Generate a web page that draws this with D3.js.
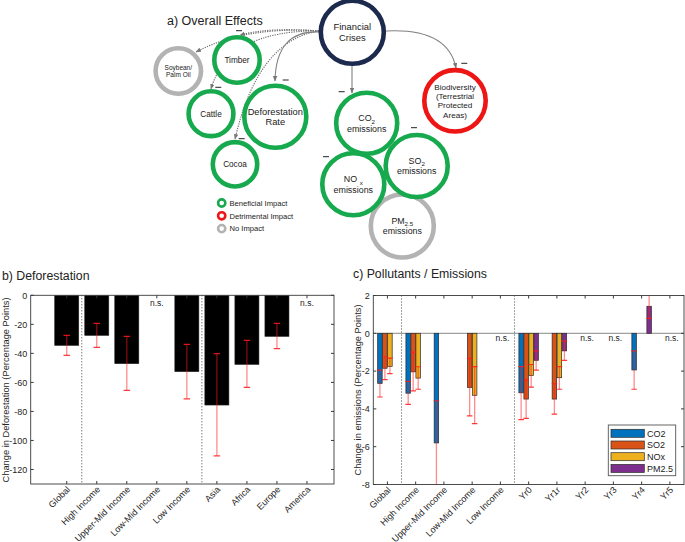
<!DOCTYPE html>
<html><head><meta charset="utf-8">
<script src="https://cdn.jsdelivr.net/npm/d3@7"></script>
<style>body{margin:0;background:#fff} text{font-family:"Liberation Sans",Arial,Helvetica,sans-serif}</style>
</head><body><svg id="chart" width="685" height="542"></svg>
<script>
// ---------- DATA ----------
const defCats = ["Global","High Income","Upper-Mid Income","Low-Mid Income","Low Income","Asia","Africa","Europe","America"];
const defValues = [-34.5,-27.6,-47.1,null,-52.6,-75.6,-47.6,-28.3,null];
const defErrHigh = [-27.6,-19.3,-28.3,null,-33.8,-40.2,-31.0,-19.3,null];
const defErrLow = [-41.4,-35.9,-65.5,null,-71.3,-110.6,-63.4,-36.8,null];
const defTicks = [0,-20,-40,-60,-80,-100,-120];

const emCats = ["Global","High Income","Upper-Mid Income","Low-Mid Income","Low Income","Yr0","Yr1r","Yr2","Yr3","Yr4","Yr5"];
const emSeries = ["CO2","SO2","NOx","PM2.5"];
const co2Values  = [-2.65,-3.17,-5.8,0,null,-3.15,0,null,null,-1.94,null];
const so2Values  = [-1.85,-2.04,0,-2.87,null,-3.48,-3.48,null,null,0,null];
const noxValues  = [-1.75,-2.37,0,-3.28,null,-2.24,-2.35,null,null,0,null];
const pm25Values = [0,0,0,0,null,-1.43,-0.93,null,null,1.43,null];
const co2ErrHigh  = [-1.95,-2.54,-3.57,null,null,-1.76,null,null,null,-0.93,null];
const co2ErrLow   = [-3.37,-3.76,-8.05,null,null,-4.57,null,null,null,-2.96,null];
const so2ErrHigh  = [-1.24,-1.0,null,-1.33,null,-2.46,-2.67,null,null,null,null];
const so2ErrLow   = [-2.45,-3.05,null,-4.37,null,-4.5,-4.28,null,null,null,null];
const noxErrHigh  = [-1.31,-1.77,null,-1.76,null,-1.65,-1.76,null,null,null,null];
const noxErrLow   = [-2.13,-2.96,null,-4.78,null,-2.85,-2.96,null,null,null,null];
const pm25ErrHigh = [null,null,null,null,null,-0.93,-0.41,null,null,2.1,null];
const pm25ErrLow  = [null,null,null,null,null,-1.95,-1.43,null,null,0.79,null];
const emTicks = [2,0,-2,-4,-6,-8];

// ---------- SETUP ----------
const svg = d3.select("#chart");
const AX = "#3a3a3a";
const RED = "#ff1a1a";
const seriesColors = ["#0072BD","#D95319","#EDB120","#7E2F8E"];

// ---------- PANEL A: diagram ----------
const defs = svg.append("defs");
defs.append("marker").attr("id","arr").attr("viewBox","0 0 10 10").attr("refX",9).attr("refY",5)
  .attr("markerWidth",5).attr("markerHeight",5).attr("orient","auto-start-reverse")
  .append("path").attr("d","M0,1 L10,5 L0,9 z").attr("fill","#777");

const GREEN="#17a94e", NAVY="#1c2a4d", DRED="#ee1515", GRAY="#b3b3b3";
const A = svg.append("g");
A.append("text").attr("x",167).attr("y",25).attr("font-size",12.5).attr("fill","#222").text("a) Overall Effects");

// links
const links = [
  {s:[319,31], c:[245,26], e:[196,52], dash:true},
  {s:[319,31], c:[270,27], e:[240,35], dash:true},
  {s:[319,31], c:[228,30], e:[211,89], dash:true},
  {s:[319,31], c:[258,40], e:[235,139], dash:true},
  {s:[319,32], c:[276,30], e:[275,81], dash:false},
  {s:[352,66], c:[352,78], e:[352,93], dash:false},
  {s:[386,31], c:[448,28], e:[456,68], dash:false}
];
links.forEach(l=>{
  const p = d3.path(); p.moveTo(l.s[0],l.s[1]); p.quadraticCurveTo(l.c[0],l.c[1],l.e[0],l.e[1]);
  A.append("path").attr("d",p.toString()).attr("fill","none").attr("stroke",l.dash?"#6e6e6e":"#808080")
   .attr("stroke-width",l.dash?1.1:1.1).attr("stroke-dasharray",l.dash?"1.3,1.1":null)
   .attr("marker-end","url(#arr)");
});

const nodes = [
  {x:402.3,y:226,r:31.5,c:GRAY,lines:[["PM","2.5"],["emissions"]],fs:8.8},
  {x:352.3,y:32.3,r:31.5,c:NAVY,lines:[["Financial"],["Crises"]],fs:9.4},
  {x:178.3,y:71,r:22.7,c:GRAY,lines:[["Soybean/"],["Palm Oil"]],fs:6.5},
  {x:237,y:60,r:22.7,c:GREEN,lines:[["Timber"]],fs:8.2},
  {x:211,y:113.7,r:22.4,c:GREEN,lines:[["Cattle"]],fs:8.2},
  {x:275.3,y:116.7,r:31,c:GREEN,lines:[["Deforestation"],["Rate"]],fs:9.3},
  {x:235,y:164.3,r:22.2,c:GREEN,lines:[["Cocoa"]],fs:8.2},
  {x:366.7,y:123.3,r:30.5,c:GREEN,lines:[["CO","2"],["emissions"]],fs:8.9},
  {x:455,y:100.8,r:30.7,c:DRED,lines:[["Biodiversity"],["(Terrestrial"],["Protected"],["Areas)"]],fs:8.1},
  {x:416.7,y:166,r:31,c:GREEN,lines:[["SO","2"],["emissions"]],fs:8.9},
  {x:353.3,y:184.3,r:31,c:GREEN,lines:[["NO ","x"],["emissions"]],fs:8.9}
];
nodes.forEach(n=>{
  A.append("circle").attr("cx",n.x).attr("cy",n.y).attr("r",n.r).attr("fill","#fff")
   .attr("stroke",n.c).attr("stroke-width",4.6);
  const lh = n.fs*1.15;
  const y0 = n.y - (n.lines.length-1)*lh/2 + n.fs*0.35;
  n.lines.forEach((ln,i)=>{
    const t = A.append("text").attr("x",n.x).attr("y",y0+i*lh).attr("text-anchor","middle")
      .attr("font-size",n.fs).attr("fill","#1a1a1a");
    t.append("tspan").text(ln[0]);
    if(ln[1]) t.append("tspan").attr("font-size",n.fs*0.7).attr("dy",n.fs*0.25).text(ln[1]);
  });
});
// minus signs
[[239,30.7],[218.3,87.3],[285.7,80],[241.7,138.7],[341.7,91.7],[464.3,63.3],[414,127.7],[326,156.7]].forEach(m=>{
  A.append("line").attr("x1",m[0]-3).attr("x2",m[0]+3).attr("y1",m[1]).attr("y2",m[1])
   .attr("stroke","#222").attr("stroke-width",1);
});
// legend
[["Beneficial Impact",GREEN],["Detrimental Impact",DRED],["No Impact",GRAY]].forEach((d,i)=>{
  const y = 203 + i*12.8;
  A.append("circle").attr("cx",221.7).attr("cy",y).attr("r",3.6).attr("fill","#fff").attr("stroke",d[1]).attr("stroke-width",2.6);
  A.append("text").attr("x",229.5).attr("y",y+2.8).attr("font-size",7.6).attr("fill","#222").text(d[0]);
});

// ---------- helpers ----------
function errorBar(g, x, yHi, yLo, capW){
  g.append("line").attr("x1",x).attr("x2",x).attr("y1",yHi).attr("y2",yLo)
    .attr("stroke",RED).attr("stroke-opacity",0.5).attr("stroke-width",1.3);
  [yHi,yLo].forEach(y=>g.append("line").attr("x1",x-capW/2).attr("x2",x+capW/2).attr("y1",y).attr("y2",y)
    .attr("stroke",RED).attr("stroke-opacity",0.85).attr("stroke-width",1.2));
}
function frame(g, x, y, L, R, T, B, yTicks, cats, catPos){
  const tl = 3;
  g.append("rect").attr("x",L).attr("y",T).attr("width",R-L).attr("height",B-T)
    .attr("fill","none").attr("stroke",AX).attr("stroke-width",0.9);
  yTicks.forEach(v=>{
    const yy = y(v);
    g.append("line").attr("x1",L).attr("x2",L+tl).attr("y1",yy).attr("y2",yy).attr("stroke",AX);
    g.append("line").attr("x1",R).attr("x2",R-tl).attr("y1",yy).attr("y2",yy).attr("stroke",AX);
    g.append("text").attr("x",L-3.5).attr("y",yy+3.2).attr("text-anchor","end")
      .attr("font-size",9).attr("fill","#262626").text(v);
  });
  cats.forEach((c,i)=>{
    const xx = x(catPos[i]);
    g.append("line").attr("x1",xx).attr("x2",xx).attr("y1",B).attr("y2",B-tl).attr("stroke",AX);
    g.append("line").attr("x1",xx).attr("x2",xx).attr("y1",T).attr("y2",T+tl).attr("stroke",AX);
    g.append("text").attr("transform",`translate(${xx+4},${B+6}) rotate(-45)`).attr("text-anchor","end")
      .attr("font-size",9).attr("fill","#262626").text(c);
  });
}

// ---------- PANEL B ----------
const B = svg.append("g");
const bx = d3.scaleLinear().domain([-0.2,9.9]).range([30.7,334]);
const by = d3.scaleLinear().domain([-130,0]).range([484,295.3]);
const bPos = defCats.map((d,i)=>i+1);
B.append("text").attr("x",2).attr("y",280).attr("font-size",12.3).attr("fill","#222").text("b) Deforestation");
defs.append("clipPath").attr("id","clipB").append("rect").attr("x",30.7).attr("y",295.3).attr("width",303.3).attr("height",188.7);
const bPlot = B.append("g").attr("clip-path","url(#clipB)");
defValues.forEach((v,i)=>{
  if(v===null) return;
  const w = bx(0.8)-bx(0);
  bPlot.append("rect").attr("x",bx(bPos[i])-w/2).attr("y",by(0)).attr("width",w).attr("height",by(v)-by(0))
    .attr("fill","#000").attr("stroke","#222").attr("stroke-width",0.6);
});
defValues.forEach((v,i)=>{
  if(v===null) return;
  errorBar(bPlot, bx(bPos[i]), by(defErrHigh[i]), by(defErrLow[i]), 6.5);
});
[1.5,5.5].forEach(p=>B.append("line").attr("x1",bx(p)).attr("x2",bx(p)).attr("y1",295.3).attr("y2",484)
  .attr("stroke","#444").attr("stroke-width",1).attr("stroke-dasharray","1,2"));
defValues.forEach((v,i)=>{ if(v===null) B.append("text").attr("x",bx(bPos[i])).attr("y",306).attr("text-anchor","middle")
  .attr("font-size",8.5).attr("fill","#222").text("n.s."); });
frame(B,bx,by,30.7,334,295.3,484,defTicks,defCats,bPos);
B.append("text").attr("transform","translate(8.5,390) rotate(-90)").attr("text-anchor","middle")
  .attr("font-size",9.3).attr("fill","#262626").text("Change in Deforestation (Percentage Points)");

// ---------- PANEL C ----------
const C = svg.append("g");
const cx = d3.scaleLinear().domain([0.5,11.5]).range([373.3,684]);
const cy = d3.scaleLinear().domain([-8,2]).range([484.5,295.5]);
const cPos = emCats.map((d,i)=>i+1);
C.append("text").attr("x",353).attr("y",278).attr("font-size",12.3).attr("fill","#222").text("c) Pollutants / Emissions");
defs.append("clipPath").attr("id","clipC").append("rect").attr("x",373.3).attr("y",295.5).attr("width",310.7).attr("height",189);
const cPlot = C.append("g").attr("clip-path","url(#clipC)");
const allVals = [co2Values,so2Values,noxValues,pm25Values];
const allHi = [co2ErrHigh,so2ErrHigh,noxErrHigh,pm25ErrHigh];
const allLo = [co2ErrLow,so2ErrLow,noxErrLow,pm25ErrLow];
const slot = 0.177, bw = 0.16;
cPlot.append("line").attr("x1",373.3).attr("x2",684).attr("y1",cy(0)).attr("y2",cy(0)).attr("stroke","#a0a0a0").attr("stroke-width",1.3);
allVals.forEach((arr,s)=>{
  arr.forEach((v,i)=>{
    if(v===null||v===0) return;
    const xc = cPos[i] + (s-1.5)*slot;
    const w = cx(bw)-cx(0);
    cPlot.append("rect").attr("x",cx(xc)-w/2).attr("y",Math.min(cy(0),cy(v))).attr("width",w)
      .attr("height",Math.abs(cy(v)-cy(0))).attr("fill",seriesColors[s]).attr("stroke","#2b2b2b").attr("stroke-width",0.7);
  });
});
allVals.forEach((arr,s)=>{
  arr.forEach((v,i)=>{
    if(allHi[s][i]===null) return;
    const xc = cPos[i] + (s-1.5)*slot;
    errorBar(cPlot, cx(xc), cy(allHi[s][i]), cy(allLo[s][i]), 5.5);
  });
});
[1.5,5.5].forEach(p=>C.append("line").attr("x1",cx(p)).attr("x2",cx(p)).attr("y1",295.5).attr("y2",484.5)
  .attr("stroke","#444").attr("stroke-width",1).attr("stroke-dasharray","1,2"));
co2Values.forEach((v,i)=>{ if(v===null) C.append("text").attr("x",cx(cPos[i])+2).attr("y",341).attr("text-anchor","middle")
  .attr("font-size",8.5).attr("fill","#222").text("n.s."); });
frame(C,cx,cy,373.3,684,295.5,484.5,emTicks,emCats,cPos);
C.append("text").attr("transform","translate(361,390) rotate(-90)").attr("text-anchor","middle")
  .attr("font-size",9.3).attr("fill","#262626").text("Change in emissions (Percentage Points)");
// legend
const lg = C.append("g");
lg.append("rect").attr("x",608.3).attr("y",425).attr("width",67.4).attr("height",50.7).attr("fill","#fff").attr("stroke","#555").attr("stroke-width",0.9);
emSeries.forEach((s,i)=>{
  const y = 433.3 + i*11.7;
  lg.append("rect").attr("x",611).attr("y",y-4).attr("width",33.3).attr("height",8).attr("fill",seriesColors[i]).attr("stroke","#2b2b2b").attr("stroke-width",0.7);
  lg.append("text").attr("x",647).attr("y",y+3.2).attr("font-size",9).attr("fill","#222").text(s);
});
</script></body></html>
